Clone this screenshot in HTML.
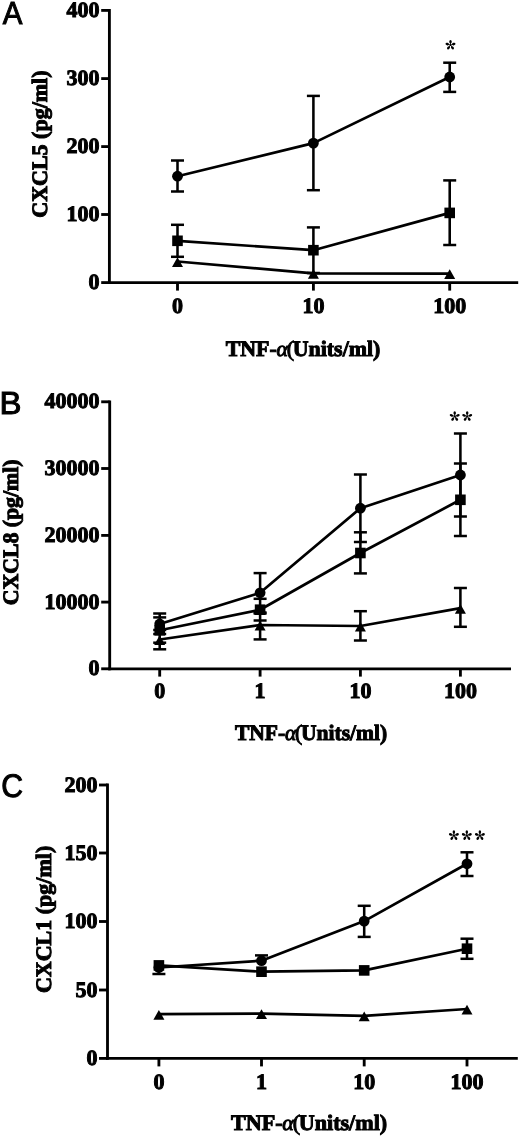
<!DOCTYPE html>
<html><head><meta charset="utf-8"><title>CXCL chemokine response to TNF-alpha</title>
<style>
html,body{margin:0;padding:0;background:#fff;}
body{width:520px;height:1136px;overflow:hidden;}
svg{display:block;will-change:transform;text-rendering:geometricPrecision;}
.b{font-family:"Liberation Serif", serif;font-weight:bold;font-size:22px;fill:#000;}
.a{font-family:"Liberation Serif", serif;font-style:italic;font-weight:normal;}
.r{font-family:"Liberation Serif", serif;font-weight:normal;}
.s{font-family:"Liberation Sans", sans-serif;font-size:32.5px;fill:#000;}
.ast{font-family:"Liberation Sans", sans-serif;font-weight:bold;font-size:24px;fill:#000;}
</style></head>
<body>
<svg width="520" height="1136" viewBox="0 0 520 1136">
<defs><g id="ast" stroke="none" fill="#000"><circle r="0.9"/><ellipse cx="0.00" cy="-3.40" rx="1.8" ry="1.25" transform="rotate(-90 0.00 -3.40)"/><line x1="0" y1="0" x2="0.00" y2="-3.40" stroke="#000" stroke-width="0.9"/><ellipse cx="3.23" cy="-1.05" rx="1.8" ry="1.25" transform="rotate(-18 3.23 -1.05)"/><line x1="0" y1="0" x2="3.23" y2="-1.05" stroke="#000" stroke-width="0.9"/><ellipse cx="-3.23" cy="-1.05" rx="1.8" ry="1.25" transform="rotate(198 -3.23 -1.05)"/><line x1="0" y1="0" x2="-3.23" y2="-1.05" stroke="#000" stroke-width="0.9"/><ellipse cx="2.00" cy="2.75" rx="1.8" ry="1.25" transform="rotate(54 2.00 2.75)"/><line x1="0" y1="0" x2="2.00" y2="2.75" stroke="#000" stroke-width="0.9"/><ellipse cx="-2.00" cy="2.75" rx="1.8" ry="1.25" transform="rotate(126 -2.00 2.75)"/><line x1="0" y1="0" x2="-2.00" y2="2.75" stroke="#000" stroke-width="0.9"/></g></defs>
<rect width="520" height="1136" fill="#fff"/>
<g stroke="#000" fill="#000" stroke-linecap="butt">
<line x1="109.4" y1="8.975" x2="109.4" y2="284.02500000000003" stroke-width="2.85"/>
<line x1="101.2" y1="10.4" x2="109.4" y2="10.4" stroke-width="2.85"/>
<text x="99.6" y="16.90" text-anchor="end" class="b">400</text>
<line x1="101.2" y1="78.6" x2="109.4" y2="78.6" stroke-width="2.85"/>
<text x="99.6" y="85.10" text-anchor="end" class="b">300</text>
<line x1="101.2" y1="146.6" x2="109.4" y2="146.6" stroke-width="2.85"/>
<text x="99.6" y="153.10" text-anchor="end" class="b">200</text>
<line x1="101.2" y1="214.5" x2="109.4" y2="214.5" stroke-width="2.85"/>
<text x="99.6" y="221.00" text-anchor="end" class="b">100</text>
<line x1="101.2" y1="282.6" x2="109.4" y2="282.6" stroke-width="2.85"/>
<text x="99.6" y="289.10" text-anchor="end" class="b">0</text>
<line x1="107.97500000000001" y1="282.6" x2="518.2" y2="282.6" stroke-width="2.85"/>
<line x1="177.5" y1="282.6" x2="177.5" y2="290.6" stroke-width="2.85"/>
<text x="177.5" y="312.60" text-anchor="middle" class="b">0</text>
<line x1="313.4" y1="282.6" x2="313.4" y2="290.6" stroke-width="2.85"/>
<text x="313.4" y="312.60" text-anchor="middle" class="b">10</text>
<line x1="449.7" y1="282.6" x2="449.7" y2="290.6" stroke-width="2.85"/>
<text x="449.7" y="312.60" text-anchor="middle" class="b">100</text>
<text transform="translate(225.7,356.3) scale(0.995,1)" class="b">TNF-<tspan class="a" dx="-0.3">α</tspan><tspan class="r" dx="-1.2">(</tspan><tspan dx="-1.3">Units/ml)</tspan></text>
<text transform="translate(46.8,144.1) rotate(-90) scale(1.0,1)" text-anchor="middle" class="b">CXCL5 (pg/ml)</text>
<text transform="translate(2.7,24.3) scale(0.92,1)" class="s" style="font-size:32px">A</text>
<line x1="109.7" y1="400.375" x2="109.7" y2="670.2249999999999" stroke-width="2.85"/>
<line x1="101.2" y1="401.8" x2="109.7" y2="401.8" stroke-width="2.85"/>
<text x="99.6" y="408.30" text-anchor="end" class="b">40000</text>
<line x1="101.2" y1="468.5" x2="109.7" y2="468.5" stroke-width="2.85"/>
<text x="99.6" y="475.00" text-anchor="end" class="b">30000</text>
<line x1="101.2" y1="535.4" x2="109.7" y2="535.4" stroke-width="2.85"/>
<text x="99.6" y="541.90" text-anchor="end" class="b">20000</text>
<line x1="101.2" y1="602.1" x2="109.7" y2="602.1" stroke-width="2.85"/>
<text x="99.6" y="608.60" text-anchor="end" class="b">10000</text>
<line x1="101.2" y1="668.8" x2="109.7" y2="668.8" stroke-width="2.85"/>
<text x="99.6" y="675.30" text-anchor="end" class="b">0</text>
<line x1="108.275" y1="668.8" x2="511.0" y2="668.8" stroke-width="2.85"/>
<line x1="159.7" y1="668.8" x2="159.7" y2="676.5999999999999" stroke-width="2.85"/>
<text x="159.7" y="698.20" text-anchor="middle" class="b">0</text>
<line x1="260.1" y1="668.8" x2="260.1" y2="676.5999999999999" stroke-width="2.85"/>
<text x="260.1" y="698.20" text-anchor="middle" class="b">1</text>
<line x1="360.4" y1="668.8" x2="360.4" y2="676.5999999999999" stroke-width="2.85"/>
<text x="360.4" y="698.20" text-anchor="middle" class="b">10</text>
<line x1="460.4" y1="668.8" x2="460.4" y2="676.5999999999999" stroke-width="2.85"/>
<text x="460.4" y="698.20" text-anchor="middle" class="b">100</text>
<text transform="translate(234.9,739.8) scale(0.98,1)" class="b">TNF-<tspan class="a" dx="-0.3">α</tspan><tspan class="r" dx="-1.2">(</tspan><tspan dx="-1.3">Units/ml)</tspan></text>
<text transform="translate(18.2,532.4) rotate(-90) scale(0.99,1)" text-anchor="middle" class="b">CXCL8 (pg/ml)</text>
<text transform="translate(-0.5,413.9) scale(1.03,1)" class="s" style="font-size:32px">B</text>
<line x1="107.5" y1="783.575" x2="107.5" y2="1059.825" stroke-width="2.85"/>
<line x1="99.0" y1="785.0" x2="107.5" y2="785.0" stroke-width="2.85"/>
<text x="97.5" y="791.50" text-anchor="end" class="b">200</text>
<line x1="99.0" y1="853.0" x2="107.5" y2="853.0" stroke-width="2.85"/>
<text x="97.5" y="859.50" text-anchor="end" class="b">150</text>
<line x1="99.0" y1="921.5" x2="107.5" y2="921.5" stroke-width="2.85"/>
<text x="97.5" y="928.00" text-anchor="end" class="b">100</text>
<line x1="99.0" y1="990.0" x2="107.5" y2="990.0" stroke-width="2.85"/>
<text x="97.5" y="996.50" text-anchor="end" class="b">50</text>
<line x1="99.0" y1="1058.4" x2="107.5" y2="1058.4" stroke-width="2.85"/>
<text x="97.5" y="1064.90" text-anchor="end" class="b">0</text>
<line x1="106.075" y1="1058.4" x2="517.8" y2="1058.4" stroke-width="2.85"/>
<line x1="158.9" y1="1058.4" x2="158.9" y2="1066.4" stroke-width="2.85"/>
<text x="158.9" y="1088.90" text-anchor="middle" class="b">0</text>
<line x1="261.5" y1="1058.4" x2="261.5" y2="1066.4" stroke-width="2.85"/>
<text x="261.5" y="1088.90" text-anchor="middle" class="b">1</text>
<line x1="364.2" y1="1058.4" x2="364.2" y2="1066.4" stroke-width="2.85"/>
<text x="364.2" y="1088.90" text-anchor="middle" class="b">10</text>
<line x1="467.0" y1="1058.4" x2="467.0" y2="1066.4" stroke-width="2.85"/>
<text x="467.0" y="1088.90" text-anchor="middle" class="b">100</text>
<text transform="translate(231.0,1130.0) scale(1.005,1)" class="b">TNF-<tspan class="a" dx="-0.3">α</tspan><tspan class="r" dx="-1.2">(</tspan><tspan dx="-1.3">Units/ml)</tspan></text>
<text transform="translate(50.8,919.4) rotate(-90) scale(1.0,1)" text-anchor="middle" class="b">CXCL1 (pg/ml)</text>
<text transform="translate(1.2,797.1) scale(0.93,1)" class="s" style="font-size:32.5px">C</text>
<line x1="177.5" y1="160.5" x2="177.5" y2="191.5" stroke-width="2.55"/>
<line x1="171.0" y1="160.5" x2="184.0" y2="160.5" stroke-width="2.5"/>
<line x1="171.0" y1="191.5" x2="184.0" y2="191.5" stroke-width="2.5"/>
<line x1="313.4" y1="95.9" x2="313.4" y2="190.2" stroke-width="2.55"/>
<line x1="306.9" y1="95.9" x2="319.9" y2="95.9" stroke-width="2.5"/>
<line x1="306.9" y1="190.2" x2="319.9" y2="190.2" stroke-width="2.5"/>
<line x1="449.7" y1="62.7" x2="449.7" y2="91.9" stroke-width="2.55"/>
<line x1="443.2" y1="62.7" x2="456.2" y2="62.7" stroke-width="2.5"/>
<line x1="443.2" y1="91.9" x2="456.2" y2="91.9" stroke-width="2.5"/>
<line x1="177.5" y1="224.8" x2="177.5" y2="256.8" stroke-width="2.55"/>
<line x1="171.0" y1="224.8" x2="184.0" y2="224.8" stroke-width="2.5"/>
<line x1="171.0" y1="256.8" x2="184.0" y2="256.8" stroke-width="2.5"/>
<line x1="313.4" y1="227.4" x2="313.4" y2="273.0" stroke-width="2.55"/>
<line x1="306.9" y1="227.4" x2="319.9" y2="227.4" stroke-width="2.5"/>
<line x1="306.9" y1="273.0" x2="319.9" y2="273.0" stroke-width="2.5"/>
<line x1="449.7" y1="180.4" x2="449.7" y2="245.0" stroke-width="2.55"/>
<line x1="443.2" y1="180.4" x2="456.2" y2="180.4" stroke-width="2.5"/>
<line x1="443.2" y1="245.0" x2="456.2" y2="245.0" stroke-width="2.5"/>
<polyline points="177.5,176.2 313.4,143.1 449.7,77.0" fill="none" stroke-width="2.7" stroke-linejoin="round"/>
<polyline points="177.5,240.8 313.4,250.2 449.7,212.9" fill="none" stroke-width="2.7" stroke-linejoin="round"/>
<polyline points="177.5,261.5 313.4,273.3 449.7,273.6" fill="none" stroke-width="2.7" stroke-linejoin="round"/>
<circle cx="177.5" cy="176.2" r="5.4" stroke="none"/>
<circle cx="313.4" cy="143.1" r="5.4" stroke="none"/>
<circle cx="449.7" cy="77.0" r="5.4" stroke="none"/>
<rect x="172.20" y="235.50" width="10.6" height="10.6" stroke="none"/>
<rect x="308.10" y="244.90" width="10.6" height="10.6" stroke="none"/>
<rect x="444.40" y="207.60" width="10.6" height="10.6" stroke="none"/>
<polygon points="177.50,257.20 183.00,267.00 172.00,267.00" stroke="none"/>
<polygon points="313.40,269.00 318.90,278.80 307.90,278.80" stroke="none"/>
<polygon points="449.70,269.30 455.20,279.10 444.20,279.10" stroke="none"/>
<use href="#ast" x="450.5" y="45.1"/>
<line x1="159.7" y1="613.5" x2="159.7" y2="649.3" stroke-width="2.55"/>
<line x1="153.2" y1="613.5" x2="166.2" y2="613.5" stroke-width="2.5"/>
<line x1="153.2" y1="617.4" x2="166.2" y2="617.4" stroke-width="2.5"/>
<line x1="153.2" y1="630.0" x2="166.2" y2="630.0" stroke-width="2.5"/>
<line x1="153.2" y1="634.0" x2="166.2" y2="634.0" stroke-width="2.5"/>
<line x1="153.2" y1="642.7" x2="166.2" y2="642.7" stroke-width="2.5"/>
<line x1="153.2" y1="649.3" x2="166.2" y2="649.3" stroke-width="2.5"/>
<line x1="260.1" y1="573.1" x2="260.1" y2="612.5" stroke-width="2.55"/>
<line x1="253.60000000000002" y1="573.1" x2="266.6" y2="573.1" stroke-width="2.5"/>
<line x1="253.60000000000002" y1="612.5" x2="266.6" y2="612.5" stroke-width="2.5"/>
<line x1="253.60000000000002" y1="598.8" x2="266.6" y2="598.8" stroke-width="2.5"/>
<line x1="253.60000000000002" y1="620.5" x2="266.6" y2="620.5" stroke-width="2.5"/>
<line x1="260.1" y1="613.5" x2="260.1" y2="639.4" stroke-width="2.55"/>
<line x1="253.60000000000002" y1="613.5" x2="266.6" y2="613.5" stroke-width="2.5"/>
<line x1="253.60000000000002" y1="639.4" x2="266.6" y2="639.4" stroke-width="2.5"/>
<line x1="360.4" y1="474.5" x2="360.4" y2="542.0" stroke-width="2.55"/>
<line x1="353.9" y1="474.5" x2="366.9" y2="474.5" stroke-width="2.5"/>
<line x1="353.9" y1="542.0" x2="366.9" y2="542.0" stroke-width="2.5"/>
<line x1="360.4" y1="532.3" x2="360.4" y2="573.4" stroke-width="2.55"/>
<line x1="353.9" y1="532.3" x2="366.9" y2="532.3" stroke-width="2.5"/>
<line x1="353.9" y1="573.4" x2="366.9" y2="573.4" stroke-width="2.5"/>
<line x1="360.4" y1="611.2" x2="360.4" y2="640.5" stroke-width="2.55"/>
<line x1="353.9" y1="611.2" x2="366.9" y2="611.2" stroke-width="2.5"/>
<line x1="353.9" y1="640.5" x2="366.9" y2="640.5" stroke-width="2.5"/>
<line x1="460.4" y1="433.5" x2="460.4" y2="516.5" stroke-width="2.55"/>
<line x1="453.9" y1="433.5" x2="466.9" y2="433.5" stroke-width="2.5"/>
<line x1="453.9" y1="516.5" x2="466.9" y2="516.5" stroke-width="2.5"/>
<line x1="460.4" y1="463.5" x2="460.4" y2="536.0" stroke-width="2.55"/>
<line x1="453.9" y1="463.5" x2="466.9" y2="463.5" stroke-width="2.5"/>
<line x1="453.9" y1="536.0" x2="466.9" y2="536.0" stroke-width="2.5"/>
<line x1="460.4" y1="588.0" x2="460.4" y2="626.8" stroke-width="2.55"/>
<line x1="453.9" y1="588.0" x2="466.9" y2="588.0" stroke-width="2.5"/>
<line x1="453.9" y1="626.8" x2="466.9" y2="626.8" stroke-width="2.5"/>
<polyline points="159.7,624.0 260.1,592.8 360.4,508.2 460.4,475.0" fill="none" stroke-width="2.7" stroke-linejoin="round"/>
<polyline points="159.7,630.3 260.1,609.7 360.4,553.0 460.4,499.8" fill="none" stroke-width="2.7" stroke-linejoin="round"/>
<polyline points="159.7,639.5 260.1,625.0 360.4,626.0 460.4,608.2" fill="none" stroke-width="2.7" stroke-linejoin="round"/>
<circle cx="159.7" cy="624.0" r="5.4" stroke="none"/>
<circle cx="260.1" cy="592.8" r="5.4" stroke="none"/>
<circle cx="360.4" cy="508.2" r="5.4" stroke="none"/>
<circle cx="460.4" cy="475.0" r="5.4" stroke="none"/>
<rect x="154.40" y="625.00" width="10.6" height="10.6" stroke="none"/>
<rect x="254.80" y="604.40" width="10.6" height="10.6" stroke="none"/>
<rect x="355.10" y="547.70" width="10.6" height="10.6" stroke="none"/>
<rect x="455.10" y="494.50" width="10.6" height="10.6" stroke="none"/>
<polygon points="159.70,635.20 165.20,645.00 154.20,645.00" stroke="none"/>
<polygon points="260.10,620.70 265.60,630.50 254.60,630.50" stroke="none"/>
<polygon points="360.40,621.70 365.90,631.50 354.90,631.50" stroke="none"/>
<polygon points="460.40,603.90 465.90,613.70 454.90,613.70" stroke="none"/>
<use href="#ast" x="454.7" y="416.4"/>
<use href="#ast" x="467.2" y="416.4"/>
<line x1="158.9" y1="967.5" x2="158.9" y2="974.0" stroke-width="2.55"/>
<line x1="152.4" y1="974.0" x2="165.4" y2="974.0" stroke-width="2.5"/>
<line x1="261.5" y1="955.4" x2="261.5" y2="962" stroke-width="2.55"/>
<line x1="255.0" y1="955.4" x2="268.0" y2="955.4" stroke-width="2.5"/>
<line x1="364.2" y1="905.8" x2="364.2" y2="936.9" stroke-width="2.55"/>
<line x1="357.7" y1="905.8" x2="370.7" y2="905.8" stroke-width="2.5"/>
<line x1="357.7" y1="936.9" x2="370.7" y2="936.9" stroke-width="2.5"/>
<line x1="467.0" y1="852.3" x2="467.0" y2="876.0" stroke-width="2.55"/>
<line x1="460.5" y1="852.3" x2="473.5" y2="852.3" stroke-width="2.5"/>
<line x1="460.5" y1="876.0" x2="473.5" y2="876.0" stroke-width="2.5"/>
<line x1="467.0" y1="938.7" x2="467.0" y2="958.8" stroke-width="2.55"/>
<line x1="460.5" y1="938.7" x2="473.5" y2="938.7" stroke-width="2.5"/>
<line x1="460.5" y1="958.8" x2="473.5" y2="958.8" stroke-width="2.5"/>
<polyline points="158.9,967.5 261.5,960.7 364.2,921.1 467.0,863.8" fill="none" stroke-width="2.7" stroke-linejoin="round"/>
<polyline points="158.9,965.4 261.5,971.7 364.2,970.4 467.0,948.7" fill="none" stroke-width="2.7" stroke-linejoin="round"/>
<polyline points="158.9,1014.2 261.5,1013.6 364.2,1015.8 467.0,1009.0" fill="none" stroke-width="2.7" stroke-linejoin="round"/>
<circle cx="158.9" cy="967.5" r="5.4" stroke="none"/>
<circle cx="261.5" cy="960.7" r="5.4" stroke="none"/>
<circle cx="364.2" cy="921.1" r="5.4" stroke="none"/>
<circle cx="467.0" cy="863.8" r="5.4" stroke="none"/>
<rect x="153.60" y="960.10" width="10.6" height="10.6" stroke="none"/>
<rect x="256.20" y="966.40" width="10.6" height="10.6" stroke="none"/>
<rect x="358.90" y="965.10" width="10.6" height="10.6" stroke="none"/>
<rect x="461.70" y="943.40" width="10.6" height="10.6" stroke="none"/>
<polygon points="158.90,1009.90 164.40,1019.70 153.40,1019.70" stroke="none"/>
<polygon points="261.50,1009.30 267.00,1019.10 256.00,1019.10" stroke="none"/>
<polygon points="364.20,1011.50 369.70,1021.30 358.70,1021.30" stroke="none"/>
<polygon points="467.00,1004.70 472.50,1014.50 461.50,1014.50" stroke="none"/>
<use href="#ast" x="453.9" y="835.5"/>
<use href="#ast" x="466.8" y="835.5"/>
<use href="#ast" x="479.9" y="835.5"/>
</g>
</svg>
</body></html>
